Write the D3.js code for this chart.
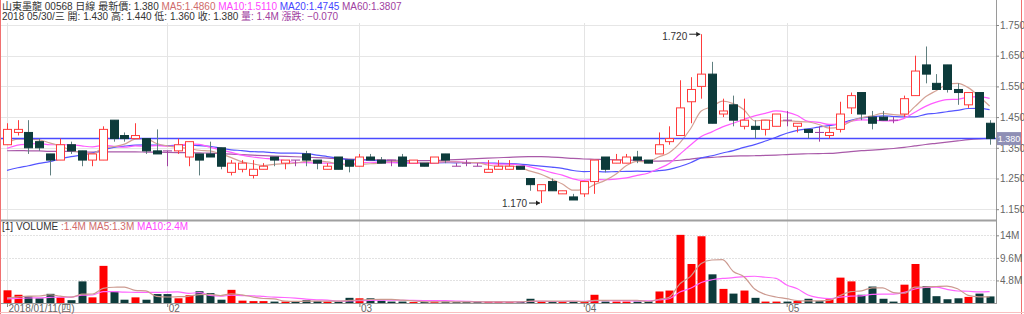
<!DOCTYPE html>
<html>
<head>
<meta charset="utf-8">
<title>山東墨龍 00568 日線</title>
<style>
  body { margin: 0; background: #fff; }
  svg { display: block; font-family: "Liberation Sans", "Noto Sans CJK TC", sans-serif; }
</style>
</head>
<body>
<div id="chart"></div>
<script src="https://cdn.jsdelivr.net/npm/d3@7/dist/d3.min.js"></script>
<script>

// trading days shown, per month (2018)
var monthNames = ["01", "02", "03", "04", "05"];
var monthDays = [
  [11, 12, 15, 16, 17, 18, 19, 22, 23, 24, 25, 26, 29, 30, 31],
  [1, 2, 5, 6, 7, 8, 9, 12, 13, 14, 15, 20, 21, 22, 23, 26, 27, 28],
  [1, 2, 5, 6, 7, 8, 9, 12, 13, 14, 15, 16, 19, 20, 21, 22, 23, 26, 27, 28, 29],
  [3, 4, 6, 9, 10, 11, 12, 13, 16, 17, 18, 19, 20, 23, 24, 25, 26, 27, 30],
  [2, 3, 4, 7, 8, 9, 10, 11, 14, 15, 16, 17, 18, 21, 23, 24, 25, 28, 29, 30]
];

var opens = [1.36, 1.40, 1.40, 1.37, 1.33, 1.31, 1.36, 1.34, 1.31, 1.31,
  1.44, 1.39, 1.38, 1.38, 1.34, 1.34, 1.34, 1.32, 1.33, 1.33,
  1.35, 1.27, 1.28, 1.26, 1.28, 1.32, 1.30, 1.31, 1.33, 1.31,
  1.28, 1.32, 1.31, 1.29, 1.32, 1.31, 1.31, 1.32, 1.30, 1.30,
  1.30, 1.33, 1.29, 1.30, 1.29, 1.27, 1.28, 1.28, 1.29, 1.25,
  1.21, 1.24, 1.20, 1.19, 1.20, 1.24, 1.32, 1.30, 1.30, 1.32,
  1.31, 1.33, 1.37, 1.39, 1.50, 1.55, 1.59, 1.46, 1.49, 1.42,
  1.42, 1.41, 1.42, 1.44, 1.42, 1.41, 1.40, 1.39, 1.41, 1.48,
  1.53, 1.45, 1.45, 1.44, 1.46, 1.52, 1.62, 1.56, 1.62, 1.54,
  1.49, 1.53, 1.43];
var highs = [1.43, 1.44, 1.44, 1.38, 1.33, 1.38, 1.37, 1.34, 1.33, 1.42,
  1.44, 1.40, 1.43, 1.38, 1.41, 1.34, 1.38, 1.37, 1.33, 1.37,
  1.35, 1.31, 1.31, 1.31, 1.30, 1.32, 1.31, 1.31, 1.34, 1.31,
  1.30, 1.32, 1.31, 1.33, 1.33, 1.32, 1.31, 1.33, 1.31, 1.30,
  1.32, 1.33, 1.30, 1.31, 1.30, 1.31, 1.31, 1.31, 1.29, 1.25,
  1.23, 1.25, 1.21, 1.20, 1.24, 1.31, 1.32, 1.33, 1.33, 1.34,
  1.31, 1.40, 1.42, 1.57, 1.58, 1.72, 1.63, 1.51, 1.52, 1.51,
  1.44, 1.44, 1.46, 1.47, 1.43, 1.41, 1.42, 1.42, 1.50, 1.53,
  1.53, 1.47, 1.47, 1.45, 1.52, 1.65, 1.68, 1.59, 1.62, 1.56,
  1.53, 1.53, 1.44];
var lows = [1.36, 1.39, 1.33, 1.34, 1.26, 1.31, 1.33, 1.29, 1.29, 1.31,
  1.37, 1.37, 1.38, 1.33, 1.33, 1.29, 1.33, 1.29, 1.26, 1.32,
  1.28, 1.26, 1.27, 1.25, 1.28, 1.29, 1.28, 1.29, 1.29, 1.28,
  1.28, 1.28, 1.27, 1.29, 1.31, 1.30, 1.29, 1.29, 1.30, 1.29,
  1.30, 1.30, 1.29, 1.29, 1.29, 1.27, 1.28, 1.28, 1.28, 1.21,
  1.17, 1.21, 1.20, 1.18, 1.19, 1.20, 1.27, 1.30, 1.30, 1.30,
  1.30, 1.33, 1.36, 1.39, 1.43, 1.51, 1.43, 1.45, 1.42, 1.41,
  1.38, 1.39, 1.42, 1.42, 1.40, 1.38, 1.37, 1.38, 1.40, 1.46,
  1.44, 1.41, 1.44, 1.43, 1.45, 1.52, 1.56, 1.54, 1.53, 1.49,
  1.48, 1.45, 1.36];
var closes = [1.41, 1.41, 1.35, 1.35, 1.31, 1.36, 1.34, 1.31, 1.33, 1.41,
  1.38, 1.38, 1.39, 1.34, 1.33, 1.34, 1.36, 1.37, 1.31, 1.32,
  1.29, 1.30, 1.30, 1.28, 1.29, 1.31, 1.31, 1.31, 1.31, 1.30,
  1.29, 1.28, 1.29, 1.32, 1.31, 1.30, 1.31, 1.29, 1.31, 1.29,
  1.32, 1.31, 1.29, 1.30, 1.29, 1.28, 1.29, 1.29, 1.28, 1.23,
  1.23, 1.21, 1.21, 1.18, 1.24, 1.31, 1.28, 1.31, 1.32, 1.31,
  1.30, 1.36, 1.38, 1.48, 1.54, 1.59, 1.43, 1.47, 1.44, 1.44,
  1.41, 1.44, 1.46, 1.44, 1.43, 1.40, 1.40, 1.40, 1.46, 1.52,
  1.46, 1.43, 1.44, 1.44, 1.51, 1.60, 1.59, 1.54, 1.54, 1.53,
  1.53, 1.45, 1.38];
// volume in millions of shares
var volumes = [2.7, 1.75, 1.4, 1.0, 1.95, 1.2, 0.6, 4.6, 1.2, 7.9,
  2.45, 0.7, 1.2, 0.7, 1.9, 1.9, 1.0, 1.65, 2.5, 2.1,
  0.7, 2.8, 0.5, 0.4, 0.4, 0.3, 0.3, 0.3, 0.6, 0.4,
  0.3, 0.3, 1.1, 1.0, 1.0, 0.5, 0.3, 0.3, 0.2, 0.2,
  0.3, 0.3, 0.2, 0.2, 0.3, 0.3, 0.3, 0.2, 0.2, 0.9,
  0.4, 0.2, 0.2, 0.3, 0.3, 1.75, 0.3, 0.3, 0.3, 0.3,
  0.4, 2.45, 2.65, 14.5, 8.3, 14.2, 6.1, 3.0, 2.0, 2.65,
  1.1, 0.3, 0.3, 0.3, 0.45, 0.9, 0.4, 0.8, 5.4, 4.6,
  1.75, 3.5, 0.9, 0.3, 3.9, 8.3, 3.6, 1.45, 0.8, 1.0,
  1.3, 2.0, 1.4];

// closes / volumes before 2018/01/11, only used to seed the moving averages
var priorCloses = [1.38, 1.39, 1.37, 1.38, 1.36, 1.37, 1.39, 1.38, 1.37, 1.38,
  1.39, 1.38, 1.37, 1.36, 1.38, 1.39, 1.38, 1.37, 1.38, 1.37,
  1.39, 1.40, 1.38, 1.39, 1.40, 1.38, 1.37, 1.39, 1.38, 1.40,
  1.39, 1.38, 1.37, 1.36, 1.35, 1.36, 1.34, 1.33, 1.31, 1.28,
  1.24, 1.22, 1.20, 1.19, 1.18, 1.20, 1.21, 1.19, 1.20, 1.22,
  1.30, 1.32, 1.33, 1.35, 1.36, 1.34, 1.35, 1.36, 1.36];
var priorVolumes = [0.6, 0.8, 0.7, 0.9, 0.5, 0.7, 0.6, 0.8, 0.6];

var priceTicks = [1.15, 1.25, 1.35, 1.45, 1.55, 1.65, 1.75];
var volumeTicks = [4.8, 9.6, 14.4];
var volumeTickLabels = ["4.8M", "9.6M", "14M"];
var lastPrice = 1.38;

var dates = [];
monthDays.forEach(function(days, m) {
  days.forEach(function(d) { dates.push(monthNames[m] + "/" + (d < 10 ? "0" + d : d)); });
});

var bars = dates.map(function(d, i) {
  return { date: d, i: i, o: opens[i], h: highs[i], l: lows[i], c: closes[i], v: volumes[i] };
});

function movingAverage(values, prior, n) {
  var all = prior.concat(values), p = prior.length;
  return values.map(function(v, i) {
    var from = Math.max(0, i + p - n + 1);
    return d3.mean(all.slice(from, i + p + 1));
  });
}

var width = 1024, height = 314;
var axisX = 996;

var svg = d3.select("#chart").append("svg")
    .attr("width", width)
    .attr("height", height);

var x = d3.scalePoint().domain(dates).range([7, 989.6]);
var y = d3.scaleLinear().domain([1.15, 1.75]).range([209.2, 25]);
var yv = d3.scaleLinear().domain([0, 17.66]).range([303, 220]);

var upColor = "#ff3b3b", downColor = "#0d3b3b", downWick = "#5f7f7f", dojiColor = "#a040a0";

// grid
var grid = svg.append("g");
grid.selectAll("line.hp").data(priceTicks).enter().append("line")
    .attr("x1", 0).attr("x2", axisX)
    .attr("y1", function(d) { return Math.round(y(d)) + 0.5; })
    .attr("y2", function(d) { return Math.round(y(d)) + 0.5; })
    .attr("stroke", "#e6e6e6");
grid.selectAll("line.hv").data(volumeTicks).enter().append("line")
    .attr("x1", 0).attr("x2", axisX)
    .attr("y1", function(d) { return Math.round(yv(d)) + 0.5; })
    .attr("y2", function(d) { return Math.round(yv(d)) + 0.5; })
    .attr("stroke", "#e2e2e2").attr("stroke-dasharray", "2,1");

var monthStarts = bars.filter(function(b, i) { return i === 0 || b.date.slice(0, 2) !== bars[i - 1].date.slice(0, 2); });
grid.selectAll("line.v").data(monthStarts).enter().append("line")
    .attr("x1", function(d) { return Math.round(x(d.date)) + 0.5; })
    .attr("x2", function(d) { return Math.round(x(d.date)) + 0.5; })
    .attr("y1", 23).attr("y2", 307)
    .attr("stroke", "#e4e4e4");

// moving averages (price)
var maDefs = [
  { n: 60, color: "#a95aa9" },
  { n: 20, color: "#5555ff" },
  { n: 10, color: "#ff5cff" },
  { n: 5, color: "#d4a296" }
];
var line = d3.line()
    .x(function(d, i) { return x(dates[i]); })
    .y(function(d) { return y(d); })
    .curve(d3.curveMonotoneX);
maDefs.forEach(function(m) {
  svg.append("path")
      .datum(movingAverage(closes, priorCloses, m.n))
      .attr("fill", "none")
      .attr("stroke", m.color)
      .attr("stroke-width", 1.2)
      .attr("d", line);
});

// last price line
svg.append("line")
    .attr("x1", 0).attr("x2", axisX)
    .attr("y1", y(lastPrice)).attr("y2", y(lastPrice))
    .attr("stroke", "#4a4aff").attr("stroke-width", 1.5);

// candles
var bw = 8;
var candle = svg.append("g").selectAll("g").data(bars).enter().append("g");
function kind(d) { return d.c > d.o ? "up" : (d.c < d.o ? "down" : "doji"); }
candle.append("line")
    .attr("x1", function(d) { return Math.round(x(d.date)) + 0.5; })
    .attr("x2", function(d) { return Math.round(x(d.date)) + 0.5; })
    .attr("y1", function(d) { return y(d.h); })
    .attr("y2", function(d) { return y(d.l); })
    .attr("stroke", function(d) { var k = kind(d); return k === "up" ? upColor : k === "down" ? downWick : dojiColor; });
candle.append("rect")
    .attr("x", function(d) { return Math.round(x(d.date)) - bw / 2 + 0.5; })
    .attr("y", function(d) { return y(Math.max(d.o, d.c)); })
    .attr("width", bw)
    .attr("height", function(d) { return Math.max(0.01, Math.abs(y(d.o) - y(d.c))); })
    .attr("fill", function(d) { return kind(d) === "down" ? downColor : "#fff"; })
    .attr("stroke", function(d) { var k = kind(d); return k === "up" ? upColor : k === "down" ? downColor : dojiColor; });

// high / low markers
function marker(price, idx, label) {
  var cx = x(dates[idx]), cy = y(price);
  svg.append("line")
      .attr("x1", cx - 12).attr("x2", cx - 1)
      .attr("y1", cy).attr("y2", cy)
      .attr("stroke", "#222");
  svg.append("path")
      .attr("d", "M" + (cx - 1) + "," + cy + "l-4,-2.5v5z")
      .attr("fill", "#222");
  svg.append("text")
      .attr("x", cx - 14).attr("y", cy + (label === "high" ? 6 : 3.5))
      .attr("text-anchor", "end")
      .attr("font-size", 10).attr("fill", "#333")
      .text(d3.format(".3f")(price));
}
var hiIdx = d3.maxIndex(highs), loIdx = d3.minIndex(lows);
marker(highs[hiIdx], hiIdx, "high");
marker(lows[loIdx], loIdx, "low");

// volume bars
svg.append("g").selectAll("rect").data(bars).enter().append("rect")
    .attr("x", function(d) { return Math.round(x(d.date)) - bw / 2 + 0.5; })
    .attr("y", function(d) { return yv(d.v); })
    .attr("width", bw)
    .attr("height", function(d) { return yv(0) - yv(d.v); })
    .attr("fill", function(d) { return kind(d) === "up" ? "#ff0000" : downColor; });

var vline = d3.line()
    .x(function(d, i) { return x(dates[i]); })
    .y(function(d) { return yv(d); })
    .curve(d3.curveMonotoneX);
[{ n: 10, color: "#ff66ff" }, { n: 5, color: "#cc9a90" }].forEach(function(m) {
  svg.append("path")
      .datum(movingAverage(volumes, priorVolumes, m.n))
      .attr("fill", "none")
      .attr("stroke", m.color)
      .attr("stroke-width", 1.2)
      .attr("d", vline);
});

// frames
svg.append("line").attr("x1", 0).attr("x2", axisX).attr("y1", 220.5).attr("y2", 220.5)
    .attr("stroke", "#a0a0a0").attr("stroke-width", 2);
svg.append("line").attr("x1", 0).attr("x2", axisX).attr("y1", 303.5).attr("y2", 303.5)
    .attr("stroke", "#9a9a9a");
svg.append("line").attr("x1", axisX + 0.5).attr("x2", axisX + 0.5).attr("y1", 0).attr("y2", 304)
    .attr("stroke", "#9a9a9a");
svg.append("line").attr("x1", 0.5).attr("x2", 0.5).attr("y1", 0).attr("y2", height)
    .attr("stroke", "#f07070");
svg.append("line").attr("x1", 1021.5).attr("x2", 1021.5).attr("y1", 0).attr("y2", height)
    .attr("stroke", "#f07070");
svg.append("line").attr("x1", 0).attr("x2", width).attr("y1", 312.5).attr("y2", 312.5)
    .attr("stroke", "#f8c0c0");

// right axes
var pAxis = svg.append("g").attr("transform", "translate(" + axisX + ",0)")
    .call(d3.axisRight(y).tickValues(priceTicks).tickFormat(d3.format(".3f")).tickSize(3).tickPadding(1));
var vAxis = svg.append("g").attr("transform", "translate(" + axisX + ",0)")
    .call(d3.axisRight(yv).tickValues(volumeTicks).tickFormat(function(d, i) { return volumeTickLabels[i]; }).tickSize(3).tickPadding(1));
[pAxis, vAxis].forEach(function(a) {
  a.select(".domain").remove();
  a.selectAll("line").attr("stroke", "#888");
  a.selectAll("text").attr("fill", "#666").attr("font-size", 10)
      .attr("font-family", "'Liberation Sans', sans-serif");
});

// last price tag
svg.append("rect")
    .attr("x", axisX + 1).attr("y", y(lastPrice) - 6.5)
    .attr("width", 24).attr("height", 13)
    .attr("fill", "#8f8fb5");
svg.append("text")
    .attr("x", axisX + 13).attr("y", y(lastPrice) + 3.5)
    .attr("text-anchor", "middle")
    .attr("font-size", 9).attr("fill", "#fff")
    .text(d3.format(".3f")(lastPrice));

// date axis
var dAxis = svg.append("g").attr("transform", "translate(0,303)")
    .call(d3.axisBottom(x).tickValues(monthStarts.map(function(d) { return d.date; }))
      .tickSize(4).tickFormat(function(d, i) { return i === 0 ? "2018/01/11(四)" : d.slice(0, 2); }));
dAxis.select(".domain").remove();
dAxis.selectAll("line").attr("stroke", "#888");
dAxis.selectAll("text").attr("text-anchor", "start").attr("x", 1).attr("y", 2)
    .attr("fill", "#666").attr("font-size", 10).attr("dy", "0.71em")
    .attr("font-family", "'Liberation Sans', 'Noto Sans CJK TC', sans-serif");

// headers
var n = closes.length - 1;
var ma5 = movingAverage(closes, priorCloses, 5)[n],
    ma10 = movingAverage(closes, priorCloses, 10)[n],
    ma20 = movingAverage(closes, priorCloses, 20)[n],
    ma60 = movingAverage(closes, priorCloses, 60)[n];
var f3 = d3.format(".3f"), f4 = d3.format(".4f");

var h1 = svg.append("text").attr("x", 2).attr("y", 10).attr("font-size", 10);
h1.append("tspan").attr("fill", "#333").text("山東墨龍 00568 日線 最新價: " + f3(closes[n]) + " ");
h1.append("tspan").attr("fill", "#d06a6a").text("MA5:" + f4(ma5) + " ");
h1.append("tspan").attr("fill", "#ff44ff").text("MA10:" + f4(ma10) + " ");
h1.append("tspan").attr("fill", "#4444ff").text("MA20:" + f4(ma20) + " ");
h1.append("tspan").attr("fill", "#a040a0").text("MA60:" + f4(ma60));

var h2 = svg.append("text").attr("x", 2).attr("y", 20).attr("font-size", 10);
h2.append("tspan").attr("fill", "#333")
    .text("2018 05/30/三 開: " + f3(opens[n]) + " 高: " + f3(highs[n]) + " 低: " + f3(lows[n]) + " 收: " + f3(closes[n]) + " ");
h2.append("tspan").attr("fill", "#a040a0")
    .text("量: " + volumes[n] + "M 漲跌: " + f3(closes[n] - closes[n - 1]));

var vma5 = movingAverage(volumes, priorVolumes, 5)[n],
    vma10 = movingAverage(volumes, priorVolumes, 10)[n];
var h3 = svg.append("text").attr("x", 2).attr("y", 230).attr("font-size", 10);
h3.append("tspan").attr("fill", "#333").text("[1] VOLUME  ");
h3.append("tspan").attr("fill", "#d06a6a").text(":" + volumes[n] + "M MA5:" + d3.format(".1f")(vma5) + "M ");
h3.append("tspan").attr("fill", "#ff44ff").text("MA10:" + d3.format(".1f")(vma10) + "M");

</script>
</body>
</html>
